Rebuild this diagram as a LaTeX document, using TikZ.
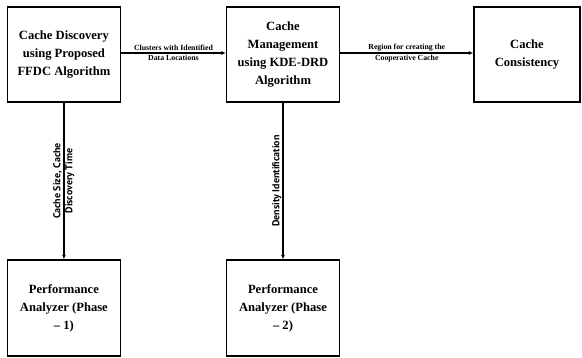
\documentclass[tikz,border=0pt]{standalone}
\usepackage{fontspec}
\setmainfont{Liberation Serif}
\newfontfamily\labfont{PT Sans}
\usetikzlibrary{arrows.meta}
\begin{document}
\begin{tikzpicture}[x=1pt,y=-1pt,
  box/.style={draw, line width=1.4pt, minimum width=113pt, minimum height=95pt,
    align=center, font=\fontsize{12.6}{18}\selectfont\bfseries, inner sep=2pt},
  conn/.style={line width=1.3pt, -{Latex[length=4.5pt,width=4pt]}},
  elab/.style={font=\fontsize{7.8}{9.5}\selectfont\bfseries, align=center, inner sep=1pt},
  vlab/.style={font=\labfont\fontsize{10}{11}\selectfont\bfseries, align=center, inner sep=1pt}]
\useasboundingbox (0,0) rectangle (582,358);
\node[box] (b1) at (63.9,54.5) {Cache Discovery\\using Proposed\\FFDC Algorithm};
\node[box] (b2) at (283,54.5) {Cache\\Management\\using KDE-DRD\\Algorithm};
\node[box, minimum width=106pt] (b3) at (527,54.5) {Cache\\Consistency};
\node[box, minimum height=96pt] (b4) at (63.9,308) {Performance\\Analyzer (Phase\\-- 1)};
\node[box, minimum height=96pt] (b5) at (283,308) {Performance\\Analyzer (Phase\\-- 2)};
\draw[conn] (b1.east |- 0,53) -- node[elab, midway] {Clusters with Identified\\[1pt]Data Locations} (b2.west |- 0,53);
\draw[conn] (b2.east |- 0,53) -- node[elab, midway] {Region for creating the\\[1pt]Cooperative Cache} (b3.west |- 0,53);
\draw[conn] (b1.south) -- node[vlab, midway, rotate=90] {Cache Size, Cache\\[1pt]Discovery Time} (b4.north);
\draw[conn] (b2.south) -- node[vlab, midway, rotate=90, anchor=south] {Density Identification} (b5.north);
\end{tikzpicture}
\end{document}
